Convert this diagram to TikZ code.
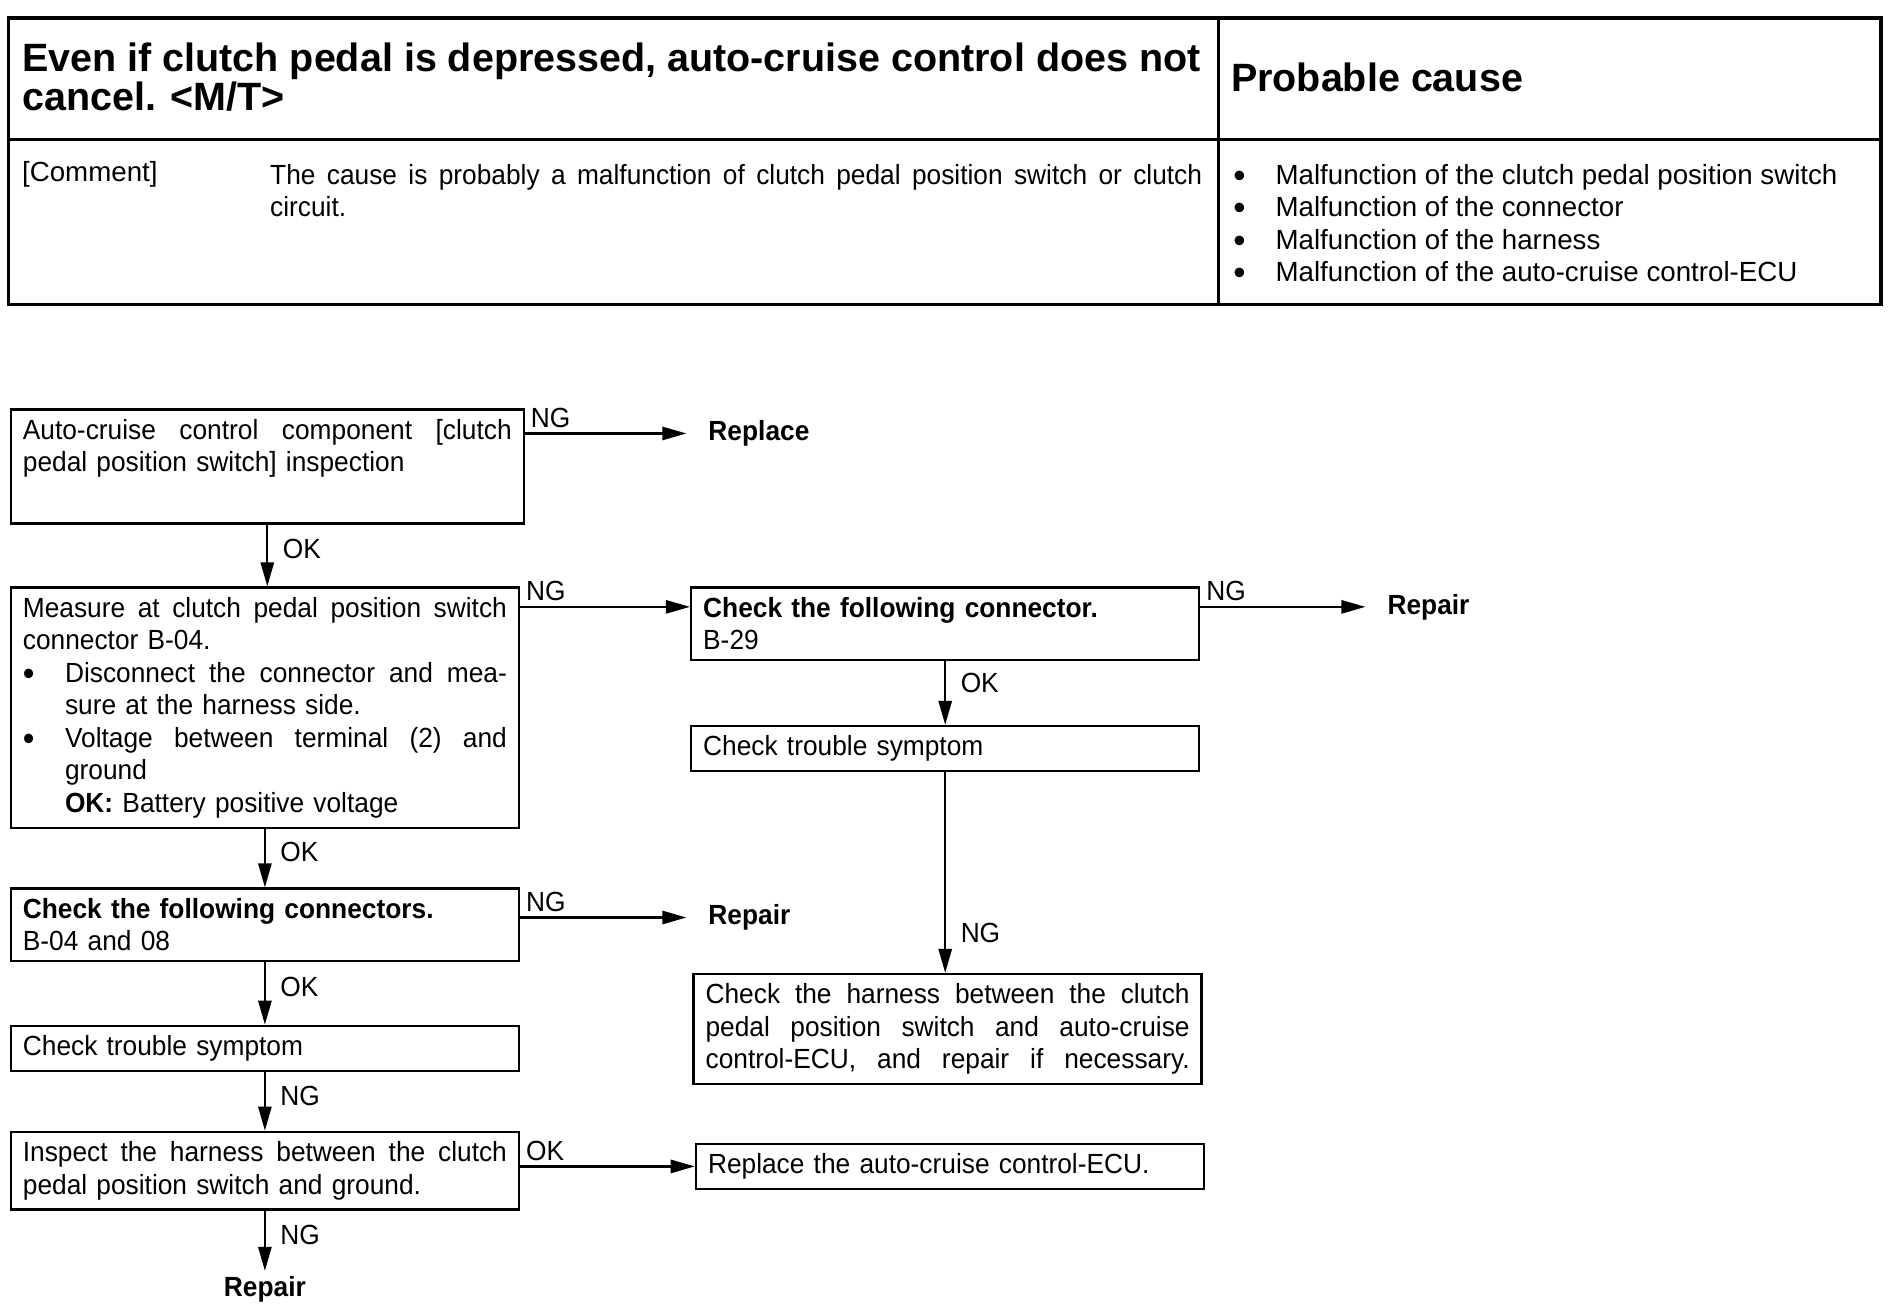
\documentclass[tikz,border=0pt]{standalone}
\usepackage{fontspec}
\setmainfont{Liberation Sans}
\newfontfamily\condfam{Liberation Sans}[FakeStretch=0.95]
\usetikzlibrary{positioning}
\usetikzlibrary{arrows.meta}
\newcommand{\boxfont}{\condfam\fontsize{11.5}{13.5}\selectfont}
\newcommand{\tablefont}{\fontsize{11.5}{13.5}\selectfont}
\newcommand{\titlefont}{\fontsize{16.4}{16.5}\selectfont\bfseries}
\newcommand{\bigdot}{\smash{\raisebox{-1.2pt}{\fontsize{14.5}{14.5}\selectfont\textbullet}}}
\newcommand{\bul}{\makebox[17.5pt][l]{\bigdot}}
\newcommand{\ind}{\hspace*{17.5pt}}
% justified line (align=left fixes the word spaces, so free them again)
\newcommand{\fullline}[1]{\makebox[\hsize][s]{\spaceskip=0pt\relax\xspaceskip=0pt\relax #1}}

\tikzset{
  stepbox/.style={draw, line width=1pt, anchor=north west, align=left, text width=201pt,
    inner xsep=5pt, inner ysep=4pt, font=\boxfont},
  flow/.style={-{Triangle[length=10pt,width=5.5pt]}, line width=0.9pt},
  result/.style={anchor=west, inner xsep=9pt, inner ysep=2pt, font=\boxfont\bfseries},
  lbl/.style={font=\boxfont, inner sep=2pt},
}

\begin{document}
\begin{tikzpicture}[x=0.5pt,y=-0.5pt]
\useasboundingbox (0,0) rectangle (1568,1090);

% Table on top
\draw[line width=1.5pt] (7,15) rectangle (1562,253);
\draw[line width=1.3pt] (7,116) -- (1562,116);
\draw[line width=1.3pt] (1012,15) -- (1012,253);

\node[anchor=north west, inner sep=0, align=left, font=\titlefont] (title) at (18,35)
  {Even if clutch pedal is depressed, auto-cruise control does not\\cancel. <M/T>};
\node[anchor=west, inner sep=0, font=\titlefont] (cause) at (1022,64) {Probable cause};
\node[anchor=base west, inner sep=0, font=\tablefont] (comment) at (18,151) {[Comment]};
\node[anchor=north west, inner sep=0, align=left, text width=387pt, font=\boxfont] (commenttext) at (224,136)
  {\fullline{The cause is probably a malfunction of clutch pedal position switch or clutch}\\circuit.};
\node[anchor=north west, inner sep=0, align=left, font=\tablefont] (causes) at (1024,136)
  {\bul Malfunction of the clutch pedal position switch\\
   \bul Malfunction of the connector\\
   \bul Malfunction of the harness\\
   \bul Malfunction of the auto-cruise control-ECU};

% Flow boxes
\node[stepbox, text width=203pt] (inspect) at (8,339)
  {\fullline{Auto-cruise control component [clutch}\\pedal position switch] inspection\\\strut};
\node[stepbox] (measure) at (8,487)
  {\fullline{Measure at clutch pedal position switch}\\
   connector B-04.\\
   \fullline{\bul Disconnect the connector and mea-}\\
   \ind sure at the harness side.\\
   \fullline{\bul Voltage between terminal (2) and}\\
   \ind ground\\
   \ind\textbf{OK:} Battery positive voltage};
\node[stepbox] (conn) at (573,487)
  {\textbf{Check the following connector.}\\B-29};
\node[stepbox] (symptomR) at (573,602) {Check trouble symptom};
\node[stepbox] (harnessECU) at (575,808)
  {\fullline{Check the harness between the clutch}\\
   \fullline{pedal position switch and auto-cruise}\\
   \fullline{control-ECU, and repair if necessary.}};
\node[stepbox] (conns) at (8,737)
  {\textbf{Check the following connectors.}\\B-04 and 08};
\node[stepbox] (symptomL) at (8,851) {Check trouble symptom};
\node[stepbox] (harnessGnd) at (8,939)
  {\fullline{Inspect the harness between the clutch}\\pedal position switch and ground.};
\node[stepbox] (ecu) at (577,949) {Replace the auto-cruise control-ECU.};

% End results
\node[result] (replace) at (570,360) {Replace};
\node[result] (repairA) at (1134,504) {Repair};
\node[result] (repairB) at (570,762) {Repair};
\node[result, anchor=north, inner ysep=2pt] (repairC) at ([yshift=-25pt]harnessGnd.south) {Repair};

% Connectors
\draw[flow] (inspect.east |- replace.west) -- node[lbl, pos=0, above right] {NG} (replace.west);
\draw[flow] (inspect.south) -- node[lbl, pos=0.4, right=4pt] {OK} (inspect.south |- measure.north);
\draw[flow] ([yshift=-8.5pt]measure.north east) -- node[lbl, pos=0, above right] {NG} ([yshift=-8.5pt]conn.north west);
\draw[flow] (conn.east |- repairA.west) -- node[lbl, pos=0, above right] {NG} (repairA.west);
\draw[flow] (conn.south) -- node[lbl, pos=0.35, right=4pt] {OK} (conn.south |- symptomR.north);
\draw[flow] (symptomR.south) -- node[lbl, pos=0.8, right=4pt] {NG} (symptomR.south |- harnessECU.north);
\draw[flow] (measure.south) -- node[lbl, pos=0.4, right=4pt] {OK} (measure.south |- conns.north);
\draw[flow] (conns.east |- repairB.west) -- node[lbl, pos=0, above right] {NG} (repairB.west);
\draw[flow] (conns.south) -- node[lbl, pos=0.4, right=4pt] {OK} (conns.south |- symptomL.north);
\draw[flow] (symptomL.south) -- node[lbl, pos=0.4, right=4pt] {NG} (symptomL.south |- harnessGnd.north);
\draw[flow] (harnessGnd.east |- ecu.west) -- node[lbl, pos=0, above right] {OK} (ecu.west);
\draw[flow] (harnessGnd.south) -- node[lbl, pos=0.4, right=4pt] {NG} (repairC.north);

\end{tikzpicture}
\end{document}
